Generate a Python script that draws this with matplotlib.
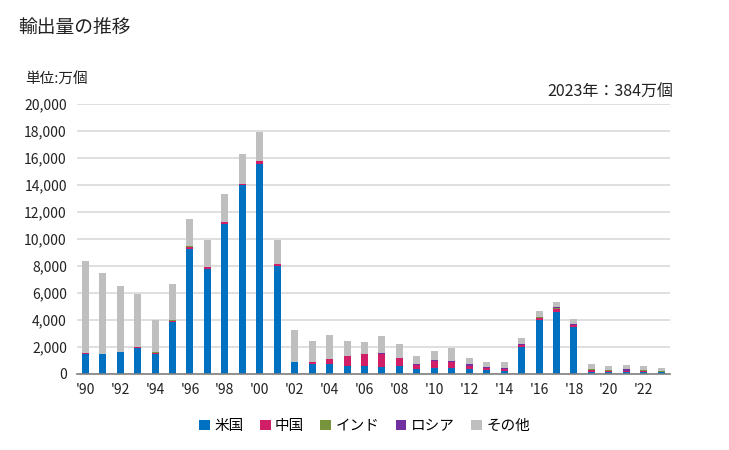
import numpy as np
import matplotlib.pyplot as plt
from matplotlib.patches import Patch

plt.rcParams['font.family'] = ['Noto Sans CJK JP', 'DejaVu Sans']

years = list(range(1990, 2024))

# 単位: 千万個 -> 値は千単位で読んで万個に換算
usa = [1.48, 1.43, 1.58, 1.90, 1.48, 3.83, 9.21, 7.73, 11.09, 13.93, 15.53, 7.98,
       0.84, 0.74, 0.74, 0.57, 0.57, 0.47, 0.59, 0.32, 0.42, 0.42, 0.32, 0.27,
       0.15, 1.95, 3.95, 4.59, 3.43, 0.12, 0.10, 0.10, 0.10, 0.10]
china = [0.07, 0.00, 0.00, 0.07, 0.05, 0.05, 0.15, 0.15, 0.15, 0.10, 0.20, 0.15,
         0.00, 0.10, 0.32, 0.72, 0.86, 0.99, 0.54, 0.32, 0.47, 0.40, 0.25, 0.15,
         0.17, 0.17, 0.17, 0.17, 0.17, 0.12, 0.05, 0.07, 0.05, 0.00]
india = [0.00, 0.00, 0.00, 0.00, 0.07, 0.10, 0.10, 0.00, 0.00, 0.00, 0.00, 0.00,
         0.00, 0.00, 0.00, 0.00, 0.00, 0.00, 0.00, 0.00, 0.00, 0.05, 0.00, 0.00,
         0.00, 0.00, 0.07, 0.10, 0.00, 0.07, 0.10, 0.05, 0.10, 0.05]
russia = [0.00, 0.00, 0.00, 0.00, 0.00, 0.00, 0.00, 0.00, 0.00, 0.00, 0.00, 0.00,
          0.00, 0.00, 0.00, 0.00, 0.00, 0.07, 0.00, 0.07, 0.10, 0.07, 0.12, 0.07,
          0.07, 0.05, 0.00, 0.07, 0.10, 0.00, 0.00, 0.10, 0.00, 0.00]
total = [8.32, 7.43, 6.47, 5.88, 3.95, 6.62, 11.43, 9.88, 13.28, 16.25, 17.88, 9.88,
         3.21, 2.40, 2.84, 2.40, 2.32, 2.77, 2.17, 1.28, 1.65, 1.88, 1.14, 0.84,
         0.84, 2.62, 4.62, 5.28, 4.02, 0.69, 0.54, 0.62, 0.54, 0.384]

usa = np.array(usa) * 1000
china = np.array(china) * 1000
india = np.array(india) * 1000
russia = np.array(russia) * 1000
other = np.array(total) * 1000 - usa - china - india - russia

names = ['米国', '中国', 'インド', 'ロシア', 'その他']
colors = ['#0070C0', '#D01F66', '#77933C', '#7030A0', '#BFBFBF']
series = [usa, china, india, russia, other]

fig = plt.figure(figsize=(7.29, 4.5), dpi=100)
ax = fig.add_axes([0.105, 0.170, 0.814, 0.600])

x = np.arange(len(years))
bottom = np.zeros(len(years))
for vals, c in zip(series, colors):
    ax.bar(x, vals, 0.4, bottom=bottom, color=c, zorder=3)
    bottom += vals

ax.set_xlim(-0.5, len(years) - 0.5)
ax.set_ylim(0, 20000)
ax.set_yticks(np.arange(0, 20001, 2000))
ax.set_yticklabels([f'{v:,}' for v in range(0, 20001, 2000)], fontsize=10, color='#222222')
ax.set_xticks(x[::2])
ax.set_xticklabels([f"'{str(y)[2:]}" for y in years[::2]], fontsize=10, color='#222222')
ax.tick_params(length=0, pad=7)
ax.grid(axis='y', color='#D9D9D9', linewidth=1.2, zorder=0)
for s in ['top', 'right', 'left']:
    ax.spines[s].set_visible(False)
ax.spines['bottom'].set_color('#808080')
ax.spines['bottom'].set_linewidth(1.2)
ax.spines['bottom'].set_zorder(4)

fig.text(0.025, 0.94, '輸出量の推移', fontsize=13.5, va='center', ha='left', color='#222222')
fig.text(0.035, 0.825, '単位:万個', fontsize=10.5, va='center', ha='left', color='#222222')
fig.text(0.923, 0.795, '2023年：384万個', fontsize=11.5, va='center', ha='right', color='#222222')

handles = [Patch(facecolor=c, edgecolor='none') for c in colors]
fig.legend(handles, names, loc='center', bbox_to_anchor=(0.5, 0.053), ncol=5,
           frameon=False, fontsize=10.5, handlelength=0.75, handleheight=0.75,
           handletextpad=0.3, columnspacing=1.1)

fig.savefig('out.png', dpi=100)
